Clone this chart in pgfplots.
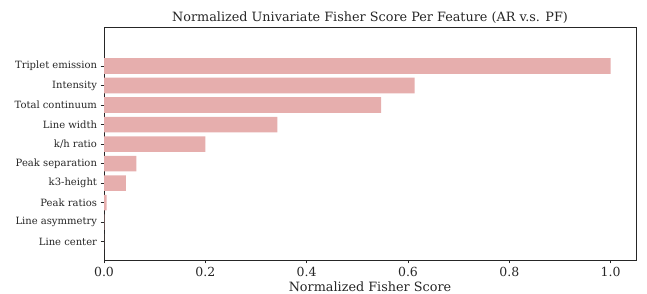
\documentclass[border=0pt]{standalone}
\usepackage{fontspec}
\setmainfont{DejaVu Serif}
\usepackage{pgfplots}
\pgfplotsset{compat=1.18}
\definecolor{barc}{RGB}{230,174,173}
\definecolor{spine}{RGB}{38,38,38}
\begin{document}
\begin{tikzpicture}
\useasboundingbox (0,0) rectangle (647pt,294pt);
\begin{axis}[
  at={(104pt,34pt)}, anchor=south west,
  scale only axis, width=532pt, height=233pt,
  xmin=0, xmax=1.05, ymin=-0.94, ymax=11.0,
  xbar, bar width=0.8,
  axis line style={spine, line width=0.8pt},
  tick style={spine, line width=0.8pt},
  tick align=outside, major tick length=3.5pt,
  xtick pos=bottom, ytick pos=left,
  ytick={0,1,2,3,4,5,6,7,8,9},
  yticklabels={Line center, Line asymmetry, Peak ratios, k3-height, Peak separation, k/h ratio, Line width, Total continuum, Intensity, Triplet emission},
  xtick={0,0.2,0.4,0.6,0.8,1.0},
  /pgf/number format/assume math mode=true,
  xticklabel style={/pgf/number format/fixed, /pgf/number format/precision=1, /pgf/number format/fixed zerofill, font=\fontsize{12.5}{14}\selectfont, text=spine},
  yticklabel style={font=\fontsize{10}{12}\selectfont, text=spine},
  xlabel={Normalized Fisher Score},
  xlabel style={font=\fontsize{12.8}{14}\selectfont, text=spine, yshift=1.5pt},
  title={Normalized Univariate Fisher Score Per Feature (AR v.s. PF)},
  title style={font=\fontsize{12.8}{14}\selectfont, text=spine, yshift=-6pt},
  clip=false,
]
\addplot[fill=barc, draw=none] coordinates {
  (0.0001,0) (0.0008,1) (0.005,2) (0.043,3) (0.064,4) (0.200,5) (0.342,6) (0.547,7) (0.613,8) (1.000,9)
};
\end{axis}
\end{tikzpicture}
\end{document}
